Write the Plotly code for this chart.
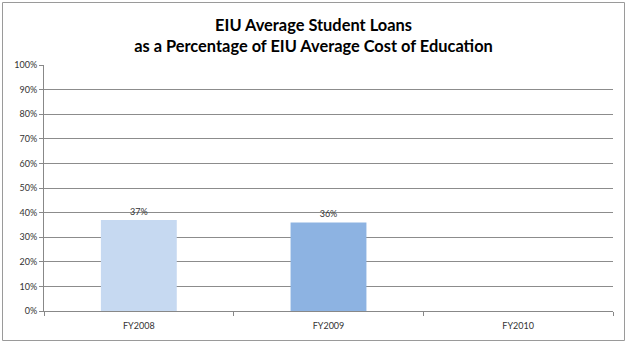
import plotly.graph_objects as go

categories = ["FY2008", "FY2009", "FY2010"]
values = [0.37, 0.36, None]
bar_colors = ["#C6D9F1", "#8DB3E2", "#8DB3E2"]
y_ticks = [i / 10 for i in range(11)]
y_tick_labels = [f"{i*10}%" for i in range(11)]
title_text = "EIU Average Student Loans<br>as a Percentage of EIU Average Cost of Education"

W, H = 627, 344
ML, MR, MT, MB = 44, 14, 65, 33
pw, ph = W - ML - MR, H - MT - MB

fig = go.Figure(go.Bar(
    x=categories, y=values, width=0.4,
    marker=dict(color=bar_colors, line=dict(width=0)),
    texttemplate="%{y:.0%}", textposition="outside",
    textfont=dict(family="Lato", size=9, color="#333333"),
    cliponaxis=False,
))

def px_x(p):
    return (p - ML) / pw

def px_y(p):
    return (H - MB - p) / ph

fig.update_layout(
    width=W, height=H,
    margin=dict(l=ML, r=MR, t=MT, b=MB),
    paper_bgcolor="white", plot_bgcolor="white",
    showlegend=False,
    bargap=0.6,
    title=dict(text=title_text, x=0.5, xref="container", xanchor="center",
               y=1 - 30.5 / H, yanchor="middle",
               font=dict(family="Lato", size=16.4, color="#000000", weight="bold")),
    xaxis=dict(type="category", tickson="boundaries", ticks="outside", ticklen=4,
               tickcolor="#888888", showline=True, linecolor="#888888", linewidth=1,
               showgrid=False, tickfont=dict(family="Lato", size=9, color="#333333"),
               ticklabelstandoff=6,
               range=[-0.5, 2.5]),
    yaxis=dict(range=[0, 1], tickvals=y_ticks, ticktext=y_tick_labels,
               ticks="outside", ticklen=4, tickcolor="#888888",
               showline=True, linecolor="#888888", linewidth=1,
               showgrid=True, gridcolor="#8C8C8C", gridwidth=1,
               zeroline=False,
               tickfont=dict(family="Lato", size=9, color="#333333")),
    shapes=[dict(type="rect", xref="paper", yref="paper",
                 x0=px_x(2.5), x1=px_x(624.5), y0=px_y(340.5), y1=px_y(2.5),
                 line=dict(color="#9A9A9A", width=1), fillcolor="rgba(0,0,0,0)",
                 layer="below")],
)

fig.write_html("out.html")
